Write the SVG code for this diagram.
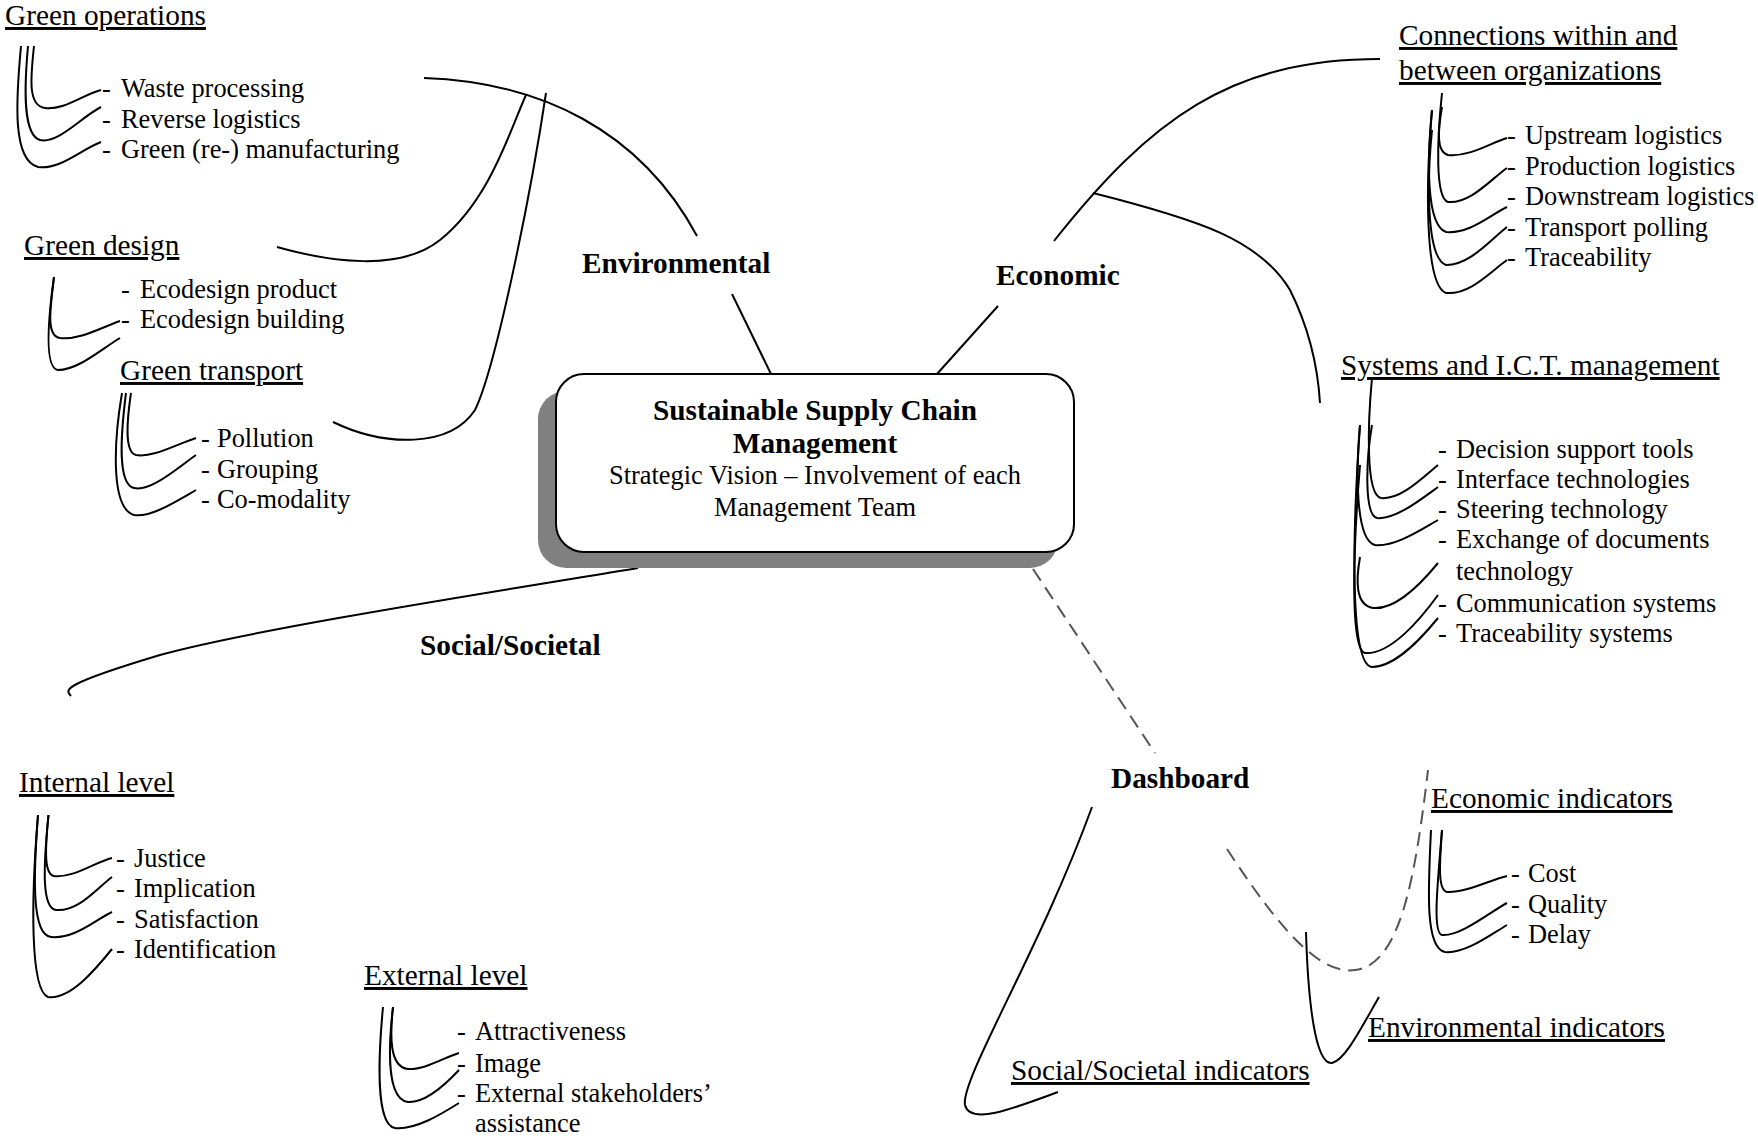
<svg xmlns="http://www.w3.org/2000/svg" width="1758" height="1139" viewBox="0 0 1758 1139">
<style>
text{font-family:"Liberation Serif","Times New Roman",serif;fill:#000}
.h{font-size:29.3px;text-decoration:underline}
.it{font-size:26.4px}
.b{font-size:29.3px;font-weight:bold}
.ln{fill:none;stroke:#000;stroke-width:2}
.dash{fill:none;stroke:#555;stroke-width:2;stroke-dasharray:14 8}
</style>
<rect width="1758" height="1139" fill="#fff"/>
<g id="connectors">
<path class="ln" d="M424,78 C540,82 640,130 697,236"/>
<path class="ln" d="M277,247 C330,262 400,272 440,240 C490,200 510,130 526,95"/>
<path class="ln" d="M333,422 C385,447 450,448 475,410 C495,370 530,200 546,93"/>
<path class="ln" d="M732,294 L771,374"/>
<path class="ln" d="M937,374 L998,306"/>
<path class="ln" d="M1054,241 C1150,120 1230,59 1380,59"/>
<path class="ln" d="M1093,193 C1200,220 1260,240 1290,290 C1310,330 1318,370 1320,403"/>
<path class="ln" d="M638,568 C480,594 250,630 160,655 C60,685 65,690 71,696"/>
<path class="dash" d="M1033,569 L1155,753"/>
<path class="ln" d="M1092,807 C1040,950 960,1080 965,1105 C970,1125 1010,1110 1058,1092"/>
<path class="dash" d="M1227,849 C1280,930 1320,975 1355,970 C1400,965 1415,880 1428,770"/>
<path class="ln" d="M1306,932 C1308,1000 1315,1065 1332,1063 C1345,1060 1360,1030 1379,997"/>
</g>
<g id="center">
<rect x="538" y="391" width="520" height="177" rx="28" fill="#808080"/>
<rect x="556" y="374" width="518" height="178" rx="28" fill="#fff" stroke="#000" stroke-width="2"/>
<text class="b" x="815" y="420" text-anchor="middle">Sustainable Supply Chain</text>
<text class="b" x="815" y="453" text-anchor="middle">Management</text>
<text class="it" x="815" y="484" text-anchor="middle">Strategic Vision – Involvement of each</text>
<text class="it" x="815" y="516" text-anchor="middle">Management Team</text>
</g>
<g id="environmental"><text class="b" x="582" y="273">Environmental</text></g>
<g id="economic"><text class="b" x="996" y="285">Economic</text></g>
<g id="social"><text class="b" x="420" y="655">Social/Societal</text></g>
<g id="dashboard"><text class="b" x="1111" y="788">Dashboard</text></g>
<g id="green-operations">
<text class="h" x="5" y="25">Green operations</text>
<path class="ln" d="M34,46 C31,75 27,106 45,108 C65,110 82,95 101,90"/>
<path class="ln" d="M28,46 C24,90 23,135 40,140 C58,144 80,118 101,107"/>
<path class="ln" d="M21,46 C16,100 12,160 38,167 C60,170 80,150 101,142"/>
<text class="it" y="97"><tspan x="102">-</tspan><tspan x="121">Waste processing</tspan></text>
<text class="it" y="128"><tspan x="102">-</tspan><tspan x="121">Reverse logistics</tspan></text>
<text class="it" y="158"><tspan x="102">-</tspan><tspan x="121">Green (re-) manufacturing</tspan></text>
</g>
<g id="green-design">
<text class="h" x="24" y="255">Green design</text>
<path class="ln" d="M54,277 C50,310 46,336 60,338 C80,340 100,328 120,321"/>
<path class="ln" d="M54,277 C48,320 44,368 58,370 C78,370 100,350 120,338"/>
<text class="it" y="298"><tspan x="121">-</tspan><tspan x="140">Ecodesign product</tspan></text>
<text class="it" y="328"><tspan x="121">-</tspan><tspan x="140">Ecodesign building</tspan></text>
</g>
<g id="green-transport">
<text class="h" x="120" y="380">Green transport</text>
<path class="ln" d="M131,393 C127,420 124,452 136,455 C152,458 175,445 196,438"/>
<path class="ln" d="M126,393 C120,440 118,484 134,488 C150,492 175,470 196,455"/>
<path class="ln" d="M122,393 C114,440 110,508 134,515 C150,518 175,502 196,490"/>
<text class="it" y="447"><tspan x="201">-</tspan><tspan x="217">Pollution</tspan></text>
<text class="it" y="478"><tspan x="201">-</tspan><tspan x="217">Grouping</tspan></text>
<text class="it" y="508"><tspan x="201">-</tspan><tspan x="217">Co-modality</tspan></text>
</g>
<g id="connections">
<text class="h" x="1399" y="45">Connections within and</text>
<text class="h" x="1399" y="80">between organizations</text>
<path class="ln" d="M1442,107 C1438,130 1436,152 1448,155 C1470,157 1490,143 1507,138"/>
<path class="ln" d="M1442,93 C1437,140 1435,198 1448,202 C1470,204 1490,180 1507,168"/>
<path class="ln" d="M1432,110 C1427,160 1426,225 1446,232 C1470,234 1490,215 1507,207"/>
<path class="ln" d="M1432,130 C1427,180 1426,258 1446,265 C1470,265 1490,240 1507,227"/>
<path class="ln" d="M1432,110 C1426,180 1424,285 1446,293 C1470,295 1490,272 1507,260"/>
<text class="it" y="144"><tspan x="1507">-</tspan><tspan x="1525">Upstream logistics</tspan></text>
<text class="it" y="175"><tspan x="1507">-</tspan><tspan x="1525">Production logistics</tspan></text>
<text class="it" y="205"><tspan x="1507">-</tspan><tspan x="1525">Downstream logistics</tspan></text>
<text class="it" y="236"><tspan x="1507">-</tspan><tspan x="1525">Transport polling</tspan></text>
<text class="it" y="266"><tspan x="1507">-</tspan><tspan x="1525">Traceability</tspan></text>
</g>
<g id="systems">
<text class="h" x="1341" y="375">Systems and I.C.T. management</text>
<path class="ln" d="M1372,378 C1368,420 1365,495 1381,498 C1400,500 1420,480 1438,465"/>
<path class="ln" d="M1372,425 C1366,460 1364,515 1377,518 C1395,520 1420,500 1438,487"/>
<path class="ln" d="M1360,425 C1356,470 1355,540 1375,545 C1395,547 1420,530 1438,520"/>
<path class="ln" d="M1360,557 C1356,580 1355,605 1373,608 C1395,610 1420,585 1438,563"/>
<path class="ln" d="M1360,465 C1353,550 1350,650 1365,653 C1390,655 1420,620 1438,595"/>
<path class="ln" d="M1360,425 C1352,540 1350,665 1372,667 C1395,667 1420,640 1438,618"/>
<text class="it" y="458"><tspan x="1438">-</tspan><tspan x="1456">Decision support tools</tspan></text>
<text class="it" y="488"><tspan x="1438">-</tspan><tspan x="1456">Interface technologies</tspan></text>
<text class="it" y="518"><tspan x="1438">-</tspan><tspan x="1456">Steering technology</tspan></text>
<text class="it" y="548"><tspan x="1438">-</tspan><tspan x="1456">Exchange of documents</tspan></text>
<text class="it" x="1456" y="580">technology</text>
<text class="it" y="612"><tspan x="1438">-</tspan><tspan x="1456">Communication systems</tspan></text>
<text class="it" y="642"><tspan x="1438">-</tspan><tspan x="1456">Traceability systems</tspan></text>
</g>
<g id="internal-level">
<text class="h" x="19" y="792">Internal level</text>
<path class="ln" d="M48.5,815 C45,850 44,874 54,876 C75,878 95,862 112,858"/>
<path class="ln" d="M48.5,815 C43,870 42,908 56,910 C78,912 95,890 112,877"/>
<path class="ln" d="M38,815 C33,880 32,935 51,937 C75,939 95,920 112,912"/>
<path class="ln" d="M38,815 C31,900 30,990 48,997 C70,1000 95,970 112,949"/>
<text class="it" y="867"><tspan x="116">-</tspan><tspan x="134">Justice</tspan></text>
<text class="it" y="897"><tspan x="116">-</tspan><tspan x="134">Implication</tspan></text>
<text class="it" y="928"><tspan x="116">-</tspan><tspan x="134">Satisfaction</tspan></text>
<text class="it" y="958"><tspan x="116">-</tspan><tspan x="134">Identification</tspan></text>
</g>
<g id="external-level">
<text class="h" x="364" y="985">External level</text>
<path class="ln" d="M393,1007 C390,1035 389,1067 408,1069 C425,1070 445,1057 459,1053"/>
<path class="ln" d="M393,1007 C388,1050 387,1099 408,1102 C425,1103 445,1085 459,1070"/>
<path class="ln" d="M383,1007 C378,1060 376,1125 395,1128 C415,1130 440,1115 459,1103"/>
<text class="it" y="1040"><tspan x="457">-</tspan><tspan x="475">Attractiveness</tspan></text>
<text class="it" y="1072"><tspan x="457">-</tspan><tspan x="475">Image</tspan></text>
<text class="it" y="1102"><tspan x="457">-</tspan><tspan x="475">External stakeholders’</tspan></text>
<text class="it" x="475" y="1132">assistance</text>
</g>
<g id="economic-indicators">
<text class="h" x="1431" y="808">Economic indicators</text>
<path class="ln" d="M1442,830 C1440,860 1437,890 1447,892 C1465,893 1490,880 1507,876"/>
<path class="ln" d="M1442,830 C1438,880 1432,933 1442,935 C1460,937 1490,912 1507,903"/>
<path class="ln" d="M1431,830 C1428,890 1425,948 1445,952 C1465,954 1490,935 1507,925"/>
<text class="it" y="882"><tspan x="1511">-</tspan><tspan x="1528">Cost</tspan></text>
<text class="it" y="913"><tspan x="1511">-</tspan><tspan x="1528">Quality</tspan></text>
<text class="it" y="943"><tspan x="1511">-</tspan><tspan x="1528">Delay</tspan></text>
</g>
<g id="environmental-indicators"><text class="h" x="1368" y="1037">Environmental indicators</text></g>
<g id="social-indicators"><text class="h" x="1011" y="1080">Social/Societal indicators</text></g>
</svg>
